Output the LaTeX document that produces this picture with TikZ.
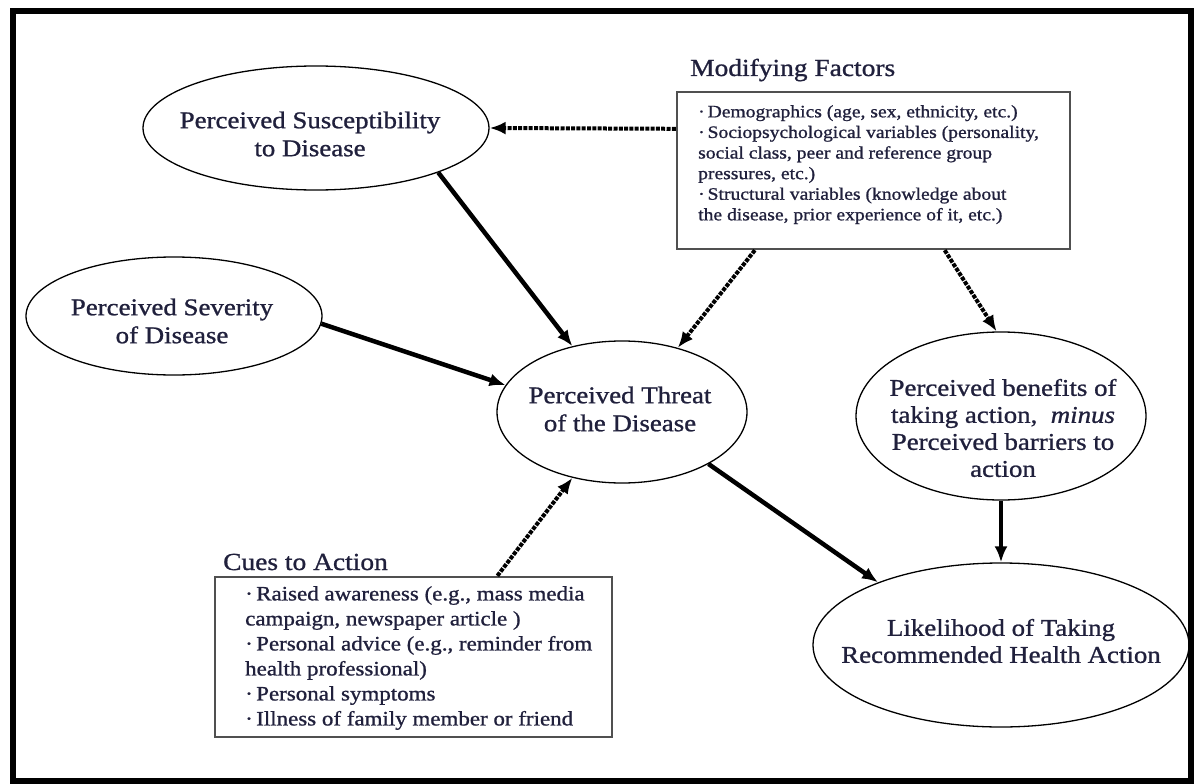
\documentclass[tikz,border=0pt]{standalone}
\usepackage{fontspec}
\setmainfont{Liberation Serif}[FakeStretch=1.12,FakeBold=1]
\usetikzlibrary{arrows.meta,shapes.geometric,calc}
\definecolor{txt}{RGB}{32,32,60}
\definecolor{boxline}{RGB}{80,80,80}
\begin{document}
\begin{tikzpicture}[x=1pt,y=-1pt,
  ell/.style={draw, ellipse, line width=1.3pt, inner sep=0pt},
  etext/.style={text=txt, align=center, font=\fontsize{24}{28}\selectfont, inner sep=0pt},
  bx/.style={draw=boxline, line width=2.4pt, inner sep=0pt},
  modtext/.style={text=txt, align=left, font=\fontsize{17.5}{20.6}\selectfont, inner sep=0pt},
  cuetext/.style={text=txt, align=left, font=\fontsize{20.5}{25}\selectfont, inner sep=0pt},
  ttl/.style={text=txt, font=\fontsize{24.5}{28}\selectfont, inner sep=0pt},
  solidarrow/.style={line width=4.5pt, -{Latex[length=16pt,width=13pt]}},
  dasharrow/.style={line width=4pt, dash pattern=on 4pt off 1.3pt, -{Latex[length=16pt,width=13pt]}}]
\useasboundingbox (0,0) rectangle (1200,784);
\draw[line width=6pt] (13,11) rectangle (1191,781);

% ellipses
\node[ell, minimum width=346pt, minimum height=124pt] (sus) at (316,128) {};
\node[etext] (susT) at (310,134) {Perceived Susceptibility\\to Disease};
\node[ell, minimum width=296pt, minimum height=118pt] (sev) at (174,316) {};
\node[etext] (sevT) at (172,321) {Perceived Severity\\of Disease};
\node[ell, minimum width=250pt, minimum height=142pt] (thr) at (622,412) {};
\node[etext] (thrT) at (620,409) {Perceived Threat\\of the Disease};
\node[ell, minimum width=290pt, minimum height=168pt] (ben) at (1001,416) {};
\node[etext, font=\fontsize{24}{27}\selectfont] (benT) at (1003,428) {Perceived benefits of\\taking action,~ \textit{minus}\\Perceived barriers to\\action};
\node[ell, minimum width=376pt, minimum height=164pt] (lik) at (1001,645) {};
\node[etext, font=\fontsize{24}{27}\selectfont] (likT) at (1001,641) {Likelihood of Taking\\Recommended Health Action};

% boxes
\node[bx, minimum width=393pt, minimum height=157pt] (mod) at (873.5,170.5) {};
\node[ttl, anchor=base west] (modTitle) at (690,76) {Modifying Factors};
\node[modtext, anchor=north west] (modT) at (698,105) {·\,Demographics (age, sex, ethnicity, etc.)\\·\,Sociopsychological variables (personality,\\social class, peer and reference group\\pressures, etc.)\\·\,Structural variables (knowledge about\\the disease, prior experience of it, etc.)};

\node[bx, minimum width=397pt, minimum height=160pt] (cues) at (413.5,657) {};
\node[ttl, anchor=base west] (cuesTitle) at (223,570) {Cues to Action};
\node[cuetext, anchor=north west] (cuesT) at (245,586) {·\,Raised awareness (e.g., mass media\\campaign, newspaper article )\\·\,Personal advice (e.g., reminder from\\health professional)\\·\,Personal symptoms\\·\,Illness of family member or friend};

% connector anchors on boxes
\coordinate (m1) at ($(mod.north west)+(0,38)$);
\coordinate (m2) at ($(mod.south west)!0.2!(mod.south east)$);
\coordinate (m3) at ($(mod.south west)!0.68!(mod.south east)$);
\coordinate (c1) at ($(cues.north west)!0.71!(cues.north east)$);

% connectors
\draw[dasharrow] (m1) -- (sus.east);
\draw[solidarrow] (sus.-20) -- (thr.127);
\draw[solidarrow] (sev.-3) -- (thr.167);
\draw[dasharrow] (m2) -- (thr.49);
\draw[dasharrow] (m3) -- (ben.93);
\draw[dasharrow] (c1) -- (thr.233);
\draw[solidarrow] (thr.-31) -- (lik.153);
\draw[solidarrow] (ben.south) -- (lik.north);
\end{tikzpicture}
\end{document}
